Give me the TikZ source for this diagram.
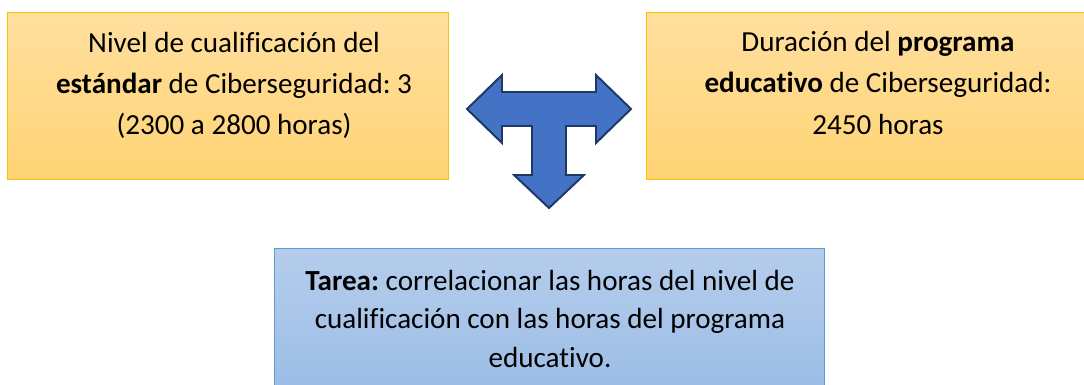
\documentclass[tikz,border=0pt]{standalone}
\usepackage{fontspec}
\setmainfont{Carlito}[Ligatures=CommonOff]
\usepackage{tikz}
\usetikzlibrary{positioning}
\frenchspacing

\definecolor{oroclaro}{HTML}{FFDF9E}
\definecolor{orooscuro}{HTML}{FFD475}
\definecolor{oroborde}{HTML}{FFC000}
\definecolor{azulclaro}{HTML}{B5CDEC}
\definecolor{azuloscuro}{HTML}{9ABCE5}
\definecolor{azulborde}{HTML}{5B9BD5}
\definecolor{flechafondo}{HTML}{4472C4}
\definecolor{flechaborde}{HTML}{1F3864}

\tikzstyle{cajaoro} = [rectangle, minimum width=11cm, minimum height=4.15cm, draw=oroborde, line width=0.7pt, top color=oroclaro, bottom color=orooscuro]
\tikzstyle{cajaazul} = [rectangle, minimum width=13.725cm, minimum height=3.75cm, draw=azulborde, line width=0.7pt, top color=azulclaro, bottom color=azuloscuro]
\tikzstyle{texto} = [align=center, inner sep=0pt, font=\fontsize{20.7}{29.2}\selectfont]
\tikzstyle{flecha} = [draw=flechaborde, fill=flechafondo, line width=1.4pt, line join=miter]

\begin{document}
\begin{tikzpicture}[x=0.025cm, y=-0.025cm]

	\useasboundingbox (0,0) rectangle (1084,385);
	\clip (0,0) rectangle (1084,385);

	\node (nivel) [cajaoro] at (228,96) {};
	\node (programa) [cajaoro] at (867,96) {};
	\node (tarea) [cajaazul] at (549.5,324) {};

	\node (textoNivel) [texto] at (234,85) {Nivel de cualificación del\\\textbf{estándar} de Ciberseguridad: 3\\(2300 a 2800 horas)};
	\node (textoPrograma) [texto] at (878,83) {Duración del \textbf{programa}\\\textbf{educativo} de Ciberseguridad:\\2450 horas};
	\node (textoTarea) [texto, font=\fontsize{20.7}{27.2}\selectfont] at (550,319) {\textbf{Tarea:} correlacionar las horas del nivel de\\cualificación con las horas del programa\\educativo.};

	% flecha en T
	\begin{scope}[shift={(549,109)}]
		\draw [flecha] (-82,0) -- (-47,-34) -- (-47,-17) -- (47,-17) -- (47,-34) -- (82,0)
			-- (47,34) -- (47,17) -- (17,17) -- (17,66) -- (35,66) -- (0,99)
			-- (-35,66) -- (-17,66) -- (-17,17) -- (-47,17) -- (-47,34) -- cycle;
	\end{scope}

\end{tikzpicture}
\end{document}
